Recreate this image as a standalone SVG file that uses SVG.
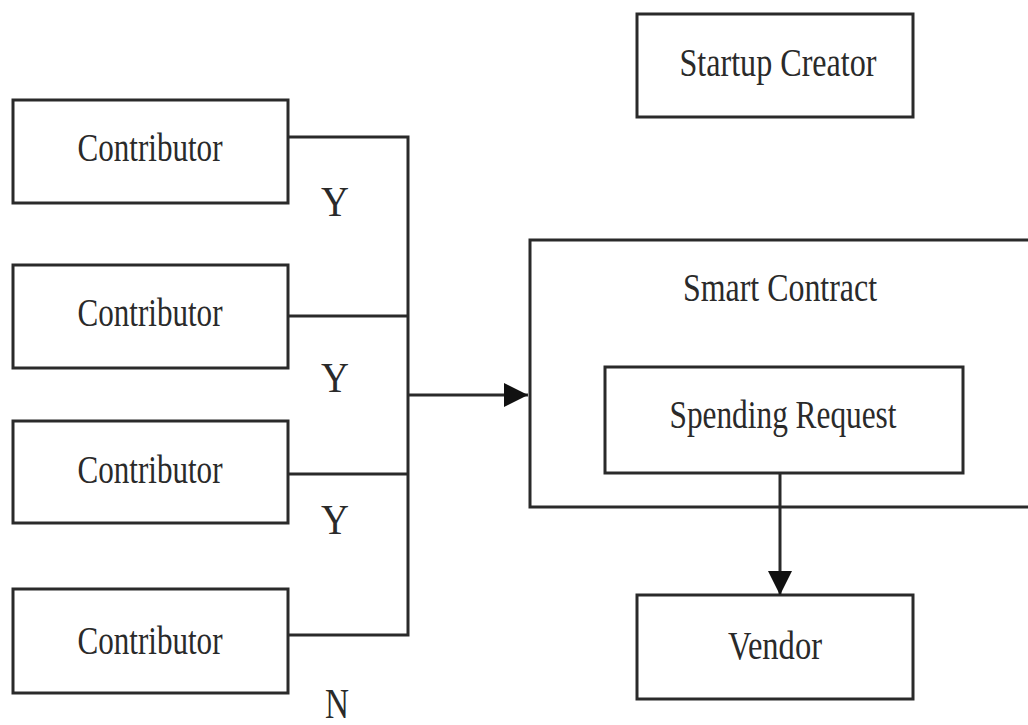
<svg xmlns="http://www.w3.org/2000/svg" width="1028" height="725" viewBox="0 0 1028 725">
<style>
.box{fill:#fff;stroke:#2a2a2a;stroke-width:3}
.t{font-family:"Liberation Serif","Times New Roman",serif;font-size:40px;fill:#2a2a2a;text-anchor:middle}
.lbl{font-family:"Liberation Serif","Times New Roman",serif;font-size:42px;fill:#2a2a2a;text-anchor:middle}
.c{fill:none;stroke:#2a2a2a;stroke-width:3}
</style>
<defs>
<marker id="ah2" viewBox="0 0 10 10" refX="10" refY="5" markerWidth="24" markerHeight="24" markerUnits="userSpaceOnUse" orient="auto">
<path d="M0,0 L10,5 L0,10 z" fill="#111"/>
</marker>
</defs>
<rect width="1028" height="725" fill="#fff"/>
<g id="startup-creator">
<rect class="box" x="637" y="14" width="276" height="103"/>
<text class="t" x="778" y="76" textLength="197" lengthAdjust="spacingAndGlyphs">Startup Creator</text>
</g>
<g id="contributor-1">
<rect class="box" x="13" y="100" width="275" height="103"/>
<text class="t" x="150" y="161" textLength="145" lengthAdjust="spacingAndGlyphs">Contributor</text>
</g>
<g id="contributor-2">
<rect class="box" x="13" y="265" width="275" height="103"/>
<text class="t" x="150" y="326" textLength="145" lengthAdjust="spacingAndGlyphs">Contributor</text>
</g>
<g id="contributor-3">
<rect class="box" x="13" y="421" width="275" height="102"/>
<text class="t" x="150" y="483" textLength="145" lengthAdjust="spacingAndGlyphs">Contributor</text>
</g>
<g id="contributor-4">
<rect class="box" x="13" y="589" width="275" height="104"/>
<text class="t" x="150" y="654" textLength="145" lengthAdjust="spacingAndGlyphs">Contributor</text>
</g>
<g id="labels">
<text class="lbl" x="335" y="216" textLength="28" lengthAdjust="spacingAndGlyphs">Y</text>
<text class="lbl" x="335" y="392" textLength="28" lengthAdjust="spacingAndGlyphs">Y</text>
<text class="lbl" x="335" y="534" textLength="28" lengthAdjust="spacingAndGlyphs">Y</text>
<text class="lbl" x="337" y="718" textLength="24" lengthAdjust="spacingAndGlyphs">N</text>
</g>
<g id="smart-contract">
<rect class="box" x="530" y="240" width="510" height="267"/>
<text class="t" x="780" y="301" textLength="194" lengthAdjust="spacingAndGlyphs">Smart Contract</text>
</g>
<g id="spending-request">
<rect class="box" x="605" y="367" width="358" height="106"/>
<text class="t" x="783" y="428" textLength="227" lengthAdjust="spacingAndGlyphs">Spending Request</text>
</g>
<g id="vendor">
<rect class="box" x="637" y="595" width="276" height="104"/>
<text class="t" x="775" y="659" textLength="94" lengthAdjust="spacingAndGlyphs">Vendor</text>
</g>
<g id="connectors">
<path class="c" d="M288,137 H408 V635 H288"/>
<path class="c" d="M288,316 H408"/>
<path class="c" d="M288,474 H408"/>
<path class="c" d="M408,395 H528" marker-end="url(#ah2)"/>
<path class="c" d="M780,474 V595" marker-end="url(#ah2)"/>
</g>
</svg>
